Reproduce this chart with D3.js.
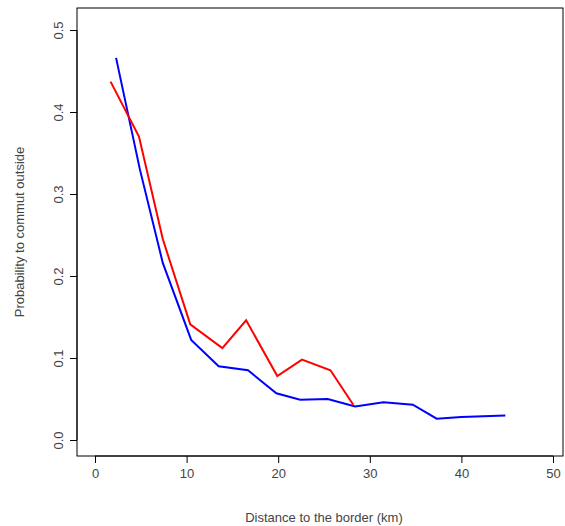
<!DOCTYPE html><html><head><script src="https://cdn.jsdelivr.net/npm/d3@7"></script>
<style>body{margin:0;background:#fff}text{font-family:Arial,"Liberation Sans",sans-serif;fill:#444}</style></head><body>
<svg id="c" width="565" height="526"></svg>
<script>
const redX=[1.7,4.8,7.4,10.4,13.9,16.5,19.9,22.6,25.7,28.2];
const redY=[0.437,0.37,0.245,0.141,0.112,0.146,0.078,0.098,0.085,0.043];
const blueX=[2.3,4.9,7.4,10.5,13.5,16.7,19.8,22.4,25.4,28.4,31.5,34.7,37.3,40,44.8];
const blueY=[0.466,0.33,0.216,0.122,0.09,0.085,0.057,0.049,0.05,0.041,0.046,0.043,0.026,0.028,0.03];
const xTicks=[0,10,20,30,40,50], yTicks=[0,0.1,0.2,0.3,0.4,0.5];
const svg=d3.select("#c");
const x=d3.scaleLinear().domain([0,50]).range([95,553]);
const y=d3.scaleLinear().domain([0,0.5]).range([440,30]);
svg.append("rect").attr("x",77).attr("y",8).attr("width",486).attr("height",448).attr("fill","none").attr("stroke","#000");
const xa=svg.append("g").attr("transform","translate(0,456)").call(d3.axisBottom(x).tickValues(xTicks).tickFormat(d3.format("d")).tickSizeOuter(0).tickSize(7).tickPadding(6));
xa.select(".domain").attr("d","M95,0H553");
const ya=svg.append("g").attr("transform","translate(77,0)").call(d3.axisLeft(y).tickValues(yTicks).tickFormat(d3.format(".1f")).tickSizeOuter(0).tickSize(7).tickPadding(6));
ya.select(".domain").attr("d","M0,440V30");
ya.selectAll(".tick text").attr("transform",function(){return "rotate(-90)";}).attr("x",0).attr("y",-14).attr("dy","0").style("text-anchor","middle");
svg.selectAll(".tick text").attr("font-size",13).style("fill","#444");
svg.append("text").attr("x",324).attr("y",522).attr("text-anchor","middle").attr("font-size",13).text("Distance to the border (km)");
svg.append("text").attr("transform","translate(24,232) rotate(-90)").attr("text-anchor","middle").attr("font-size",13).text("Probability to commut outside");
const line=d3.line().x(d=>x(d[0])).y(d=>y(d[1]));
svg.append("path").attr("d",line(blueX.map((v,i)=>[v,blueY[i]]))).attr("fill","none").attr("stroke","#0000ff").attr("stroke-width",2);
svg.append("path").attr("d",line(redX.map((v,i)=>[v,redY[i]]))).attr("fill","none").attr("stroke","#ff0000").attr("stroke-width",2);
</script></body></html>
